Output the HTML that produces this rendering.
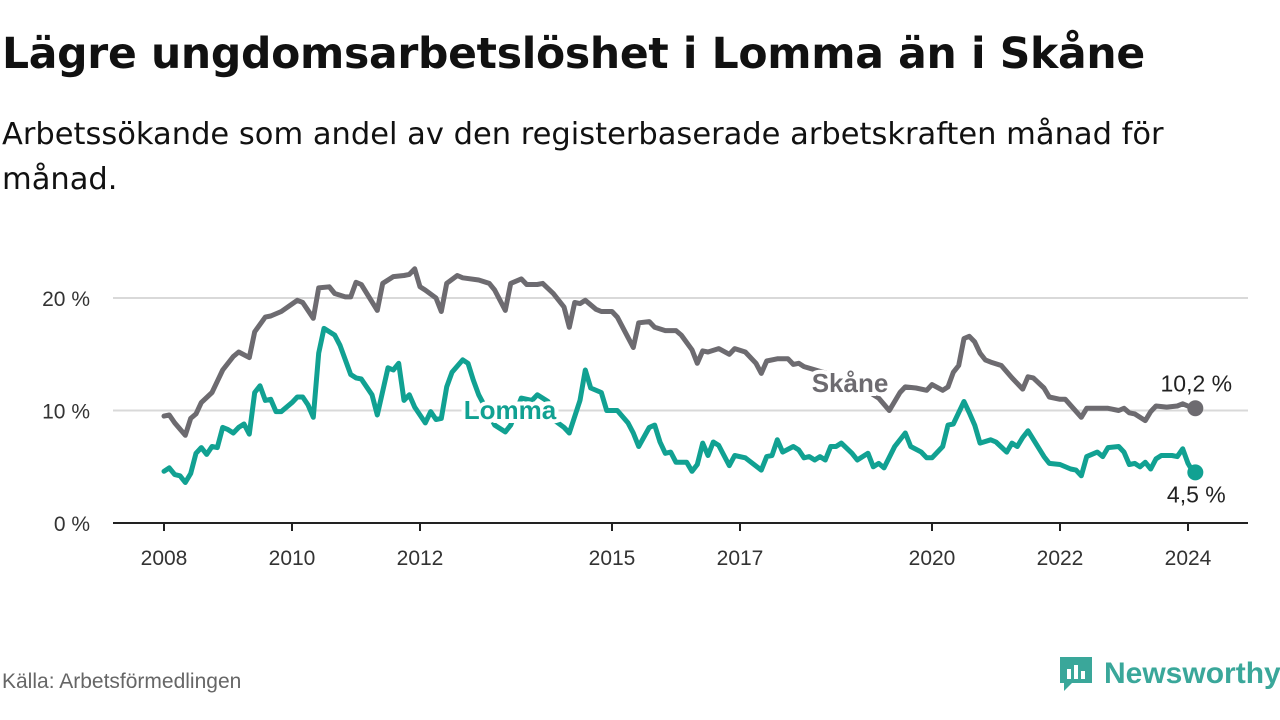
<!DOCTYPE html>
<html><head><meta charset="utf-8"><style>
body{margin:0;width:1280px;height:720px;background:#fff;font-family:"Liberation Sans",sans-serif;overflow:hidden;position:relative}
#title{position:absolute;left:2px;top:30px;font-size:42.5px;font-weight:bold;color:#111;margin:0;font-family:"DejaVu Sans",sans-serif;letter-spacing:-0.3px;white-space:nowrap}
#sub{position:absolute;left:2px;top:112px;font-size:30.5px;color:#111;line-height:45px;width:1200px;font-family:"DejaVu Sans",sans-serif}
#src{position:absolute;left:2px;top:670px;font-size:21px;color:#666}
#logo{position:absolute;left:1058px;top:655px;display:flex;align-items:center;gap:10px;color:#3aa79a;font-size:30px;font-weight:bold}
svg{position:absolute;left:0;top:0}
</style></head><body>
<h1 id="title">Lägre ungdomsarbetslöshet i Lomma än i Skåne</h1>
<div id="sub">Arbetssökande som andel av den registerbaserade arbetskraften månad för månad.</div>
<div id="src">Källa: Arbetsförmedlingen</div>
<div id="logo"><svg style="position:static" width="36" height="38" viewBox="0 0 36 38"><path d="M2 2h32v26H14l-8 8v-8H2z" fill="#3aa79a"/><rect x="9" y="14" width="4" height="10" fill="#fff"/><rect x="16" y="10" width="4" height="14" fill="#fff"/><rect x="23" y="16" width="4" height="8" fill="#fff"/></svg><span>Newsworthy</span></div>
<svg id="chart" width="1280" height="720"></svg>
<script>
const yTicks=[0,10,20];
const yTickLabels=["0 %","10 %","20 %"];
const xTickYears=[2008,2010,2012,2015,2017,2020,2022,2024];
const skaneMonths=[0,1,2,4,5,6,7,9,11,13,14,16,17,19,20,22,25,26,28,29,31,32,34,35,36,37,40,41,43,45,46,47,48,49,51,52,53,55,56,59,61,62,64,65,67,68,70,71,73,75,76,77,78,79,81,82,84,85,87,88,89,91,92,94,96,97,99,100,101,102,104,106,107,109,111,112,113,115,117,118,119,120,125,130,134,136,138,139,141,143,144,146,147,148,149,150,151,152,153,154,155,157,159,161,162,163,165,166,168,169,172,173,177,179,180,181,182,184,185,186,188,190,191,193];
const skaneValues=[9.5,9.6,8.9,7.8,9.3,9.7,10.7,11.6,13.6,14.8,15.2,14.7,17.0,18.3,18.4,18.8,19.8,19.6,18.2,20.9,21.0,20.4,20.1,20.1,21.4,21.2,18.9,21.3,21.9,22.0,22.1,22.6,21.0,20.7,20.0,18.8,21.3,22.0,21.8,21.6,21.3,20.7,18.9,21.3,21.7,21.2,21.2,21.3,20.4,19.2,17.4,19.6,19.5,19.8,19.0,18.8,18.8,18.3,16.5,15.6,17.8,17.9,17.4,17.1,17.1,16.7,15.4,14.2,15.3,15.2,15.5,15.0,15.5,15.2,14.2,13.3,14.4,14.6,14.6,14.1,14.2,13.9,13.2,12.3,11.1,10.0,11.6,12.1,12.0,11.8,12.3,11.8,12.1,13.4,14.0,16.4,16.6,16.1,15.1,14.5,14.3,14.0,12.9,11.9,13.0,12.9,12.0,11.2,11.0,11.0,9.4,10.2,10.2,10.0,10.2,9.8,9.7,9.1,9.9,10.4,10.3,10.4,10.6,10.2];
const lommaMonths=[0,1,2,3,4,5,6,7,8,9,10,11,12,13,14,15,16,17,18,19,20,21,22,24,25,26,27,28,29,30,32,33,35,36,37,39,40,42,43,44,45,46,47,49,50,51,52,53,54,56,57,58,59,62,64,65,67,69,70,72,73,75,76,78,79,80,82,83,85,87,88,89,91,92,93,94,95,96,98,99,100,101,102,103,104,106,107,109,112,113,114,115,116,118,119,120,121,122,123,124,125,126,127,129,130,132,133,134,135,137,139,140,142,143,144,146,147,148,150,151,152,153,155,156,158,159,160,161,162,165,166,168,170,171,172,173,175,176,177,179,180,181,182,183,184,185,186,187,189,190,191,192,193];
const lommaValues=[4.6,4.9,4.3,4.2,3.6,4.4,6.2,6.7,6.1,6.8,6.7,8.5,8.3,8.0,8.5,8.8,7.9,11.6,12.2,10.9,11.0,9.9,9.9,10.7,11.2,11.2,10.5,9.4,15.1,17.3,16.7,15.8,13.2,12.9,12.8,11.4,9.6,13.8,13.6,14.2,10.9,11.4,10.3,8.9,9.9,9.2,9.3,12.1,13.4,14.5,14.2,12.7,11.4,8.7,8.1,8.7,11.1,10.9,11.4,10.8,9.2,8.5,8.0,10.9,13.6,12.0,11.6,10.0,10.0,8.9,8.0,6.8,8.5,8.7,7.2,6.2,6.3,5.4,5.4,4.6,5.2,7.1,6.0,7.2,6.9,5.1,6.0,5.8,4.7,5.9,6.0,7.4,6.3,6.8,6.5,5.8,5.9,5.6,5.9,5.6,6.8,6.8,7.1,6.2,5.6,6.2,5.0,5.3,4.9,6.8,8.0,6.8,6.3,5.8,5.8,6.8,8.7,8.8,10.8,9.8,8.7,7.1,7.4,7.2,6.3,7.1,6.8,7.6,8.2,5.9,5.3,5.2,4.8,4.7,4.2,5.9,6.3,5.9,6.7,6.8,6.3,5.2,5.3,5.0,5.4,4.8,5.7,6.0,6.0,5.9,6.6,5.3,4.5];
const NS="http://www.w3.org/2000/svg";
const svg=document.getElementById('chart');
const x=m=>164+m*64/12;
const y=v=>523-v*11.25;
function mk(tag,attrs,parent){const e=document.createElementNS(NS,tag);for(const k in attrs)e.setAttribute(k,attrs[k]);(parent||svg).appendChild(e);return e;}
yTicks.forEach((t,i)=>{
  if(t>0){const g=mk('line',{x1:113,x2:1248,y1:y(t),y2:y(t),stroke:'#d9d9d9','stroke-width':2});
  
  }
  const l=mk('text',{x:90,y:y(t)+8,'text-anchor':'end','font-size':21,fill:'#333'});l.textContent=yTickLabels[i];
  
  
});
const ax=mk('line',{x1:113,x2:1248,y1:523,y2:523,stroke:'#222','stroke-width':2});


xTickYears.forEach(yr=>{
  const m=(yr-2008)*12;
  const t=mk('line',{x1:x(m),x2:x(m),y1:523,y2:531,stroke:'#222','stroke-width':2});
  
  
  const l=mk('text',{x:x(m),y:565,'text-anchor':'middle','font-size':21,fill:'#333'});l.textContent=yr;
  
  
});
function series(ms,vs,color,name){
  const d=ms.map((m,i)=>(i?'L':'M')+x(m).toFixed(1)+' '+y(vs[i]).toFixed(1)).join(' ');
  const p=mk('path',{d:d,fill:'none',stroke:color,'stroke-width':5,'stroke-linejoin':'round','stroke-linecap':'round'});
  
  
  const n=ms.length-1;
  const c=mk('circle',{cx:x(ms[n])+2,cy:y(vs[n]),r:8,fill:color});
  
  
  return [x(ms[n]),y(vs[n]),vs[n]];
}
const sk=series(skaneMonths,skaneValues,'#6d6b70','skane');
const lo=series(lommaMonths,lommaValues,'#11a192','lomma');
function lbl(tx,ty,txt,color,name,bold,size){
  const t=mk('text',{x:tx,y:ty,'text-anchor':'middle','font-size':size,'font-weight':bold?'bold':'normal',fill:color,stroke:'#fff','stroke-width':bold?8:0,'paint-order':'stroke'});
  t.textContent=txt;
  
  
}
lbl(850,392,'Skåne','#6d6b70','skane-label',true,26);
lbl(510,419,'Lomma','#11a192','lomma-label',true,26);
lbl(sk[0]+3,sk[1]-17,sk[2].toFixed(1).replace('.',',')+' %','#222','skane-value-label',false,23);
lbl(lo[0]+3,lo[1]+30,lo[2].toFixed(1).replace('.',',')+' %','#222','lomma-value-label',false,23);
</script>
</body></html>
